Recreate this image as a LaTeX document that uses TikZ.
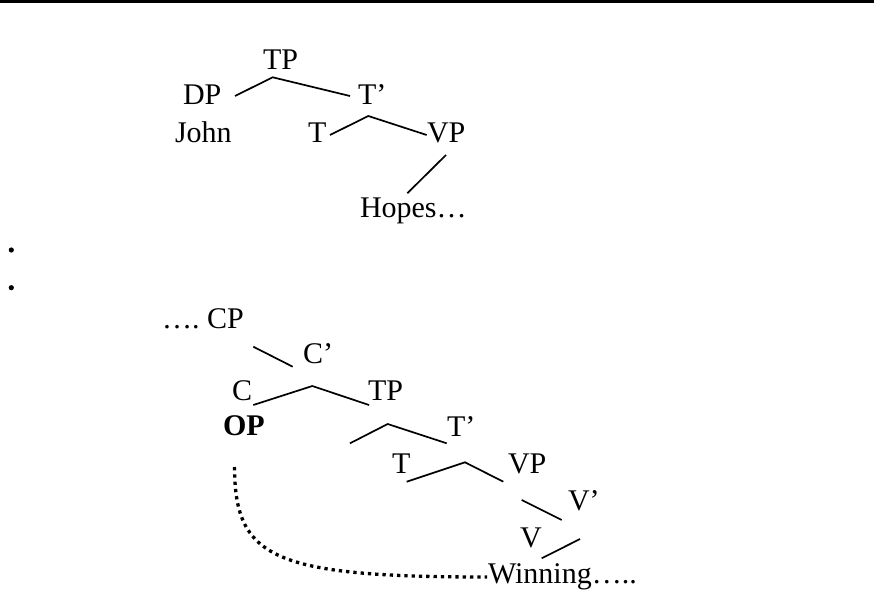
\documentclass[tikz,border=0pt]{standalone}
\usepackage{fontspec}
\setmainfont{Liberation Serif}
\begin{document}
\begin{tikzpicture}[x=1pt,y=-1pt,
  lbl/.style={anchor=base west,inner sep=0pt,outer sep=0pt,font=\fontsize{30}{36}\selectfont},
  branch/.style={line width=1.7pt},
  trace/.style={line width=3.3pt,dash pattern=on 3.3pt off 4pt}]
\useasboundingbox (0,0) rectangle (874,591);
\draw[line width=2.6pt] (0,1.7) -- (874,1.7);
% top tree
\node[lbl] (tp1) at (263,70) {TP};
\node[lbl] (dp) at (183,105) {DP};
\node[lbl] (tb1) at (358,105) {T'};
\node[lbl] (john) at (175,142) {John};
\node[lbl] (t1) at (308,142) {T};
\node[lbl] (vp1) at (427,142) {VP};
\node[lbl] (hopes) at (360,217) {Hopes\dots};
\coordinate (a1) at (235,96);
\coordinate (a2) at (272.7,77.3);
\coordinate (a3) at (350,96);
\coordinate (b1) at (330,135);
\coordinate (b2) at (368.3,116);
\coordinate (b3) at (426.7,135);
\coordinate (c1) at (446,155);
\coordinate (c2) at (407.3,193.3);
\draw[branch] (a1) -- (a2) -- (a3);
\draw[branch] (b1) -- (b2) -- (b3);
\draw[branch] (c1) -- (c2);
% bullets
\fill (11.3,250) circle (2.6);
\fill (11.3,287.7) circle (2.6);
% bottom tree
\node[lbl] (cp) at (162,328) {\dots.\ CP};
\node[lbl] (cb) at (303,363) {C'};
\node[lbl] (c) at (232,400) {C};
\node[lbl] (tp2) at (368,400) {TP};
\node[lbl,font=\fontsize{30}{36}\selectfont\bfseries] (op) at (223,435) {OP};
\node[lbl] (tb2) at (447,436) {T'};
\node[lbl] (t2) at (392,473) {T};
\node[lbl] (vp2) at (508,473) {VP};
\node[lbl] (vb) at (568,510) {V'};
\node[lbl] (v) at (520,547) {V};
\node[lbl] (win) at (488,583) {Winning\dots..};
\coordinate (d1) at (253.3,346.7);
\coordinate (d2) at (292.7,366.7);
\coordinate (e1) at (253.3,405);
\coordinate (e2) at (312.3,386);
\coordinate (e3) at (369,405);
\coordinate (f1) at (350,443.3);
\coordinate (f2) at (387.7,424);
\coordinate (f3) at (446.7,443.3);
\coordinate (g1) at (406.7,481.7);
\coordinate (g2) at (465,462.3);
\coordinate (g3) at (503.3,481.7);
\coordinate (h1) at (521.7,500);
\coordinate (h2) at (561.7,520);
\coordinate (k1) at (541.7,558.3);
\coordinate (k2) at (580,539);
\draw[branch] (d1) -- (d2);
\draw[branch] (e1) -- (e2) -- (e3);
\draw[branch] (f1) -- (f2) -- (f3);
\draw[branch] (g1) -- (g2) -- (g3);
\draw[branch] (h1) -- (h2);
\draw[branch] (k1) -- (k2);
% trace
\coordinate (s) at (234.5,467);
\coordinate (w) at (487,577);
\draw[trace] (s) .. controls (235,558) and (272,577) .. (w);
\end{tikzpicture}
\end{document}
